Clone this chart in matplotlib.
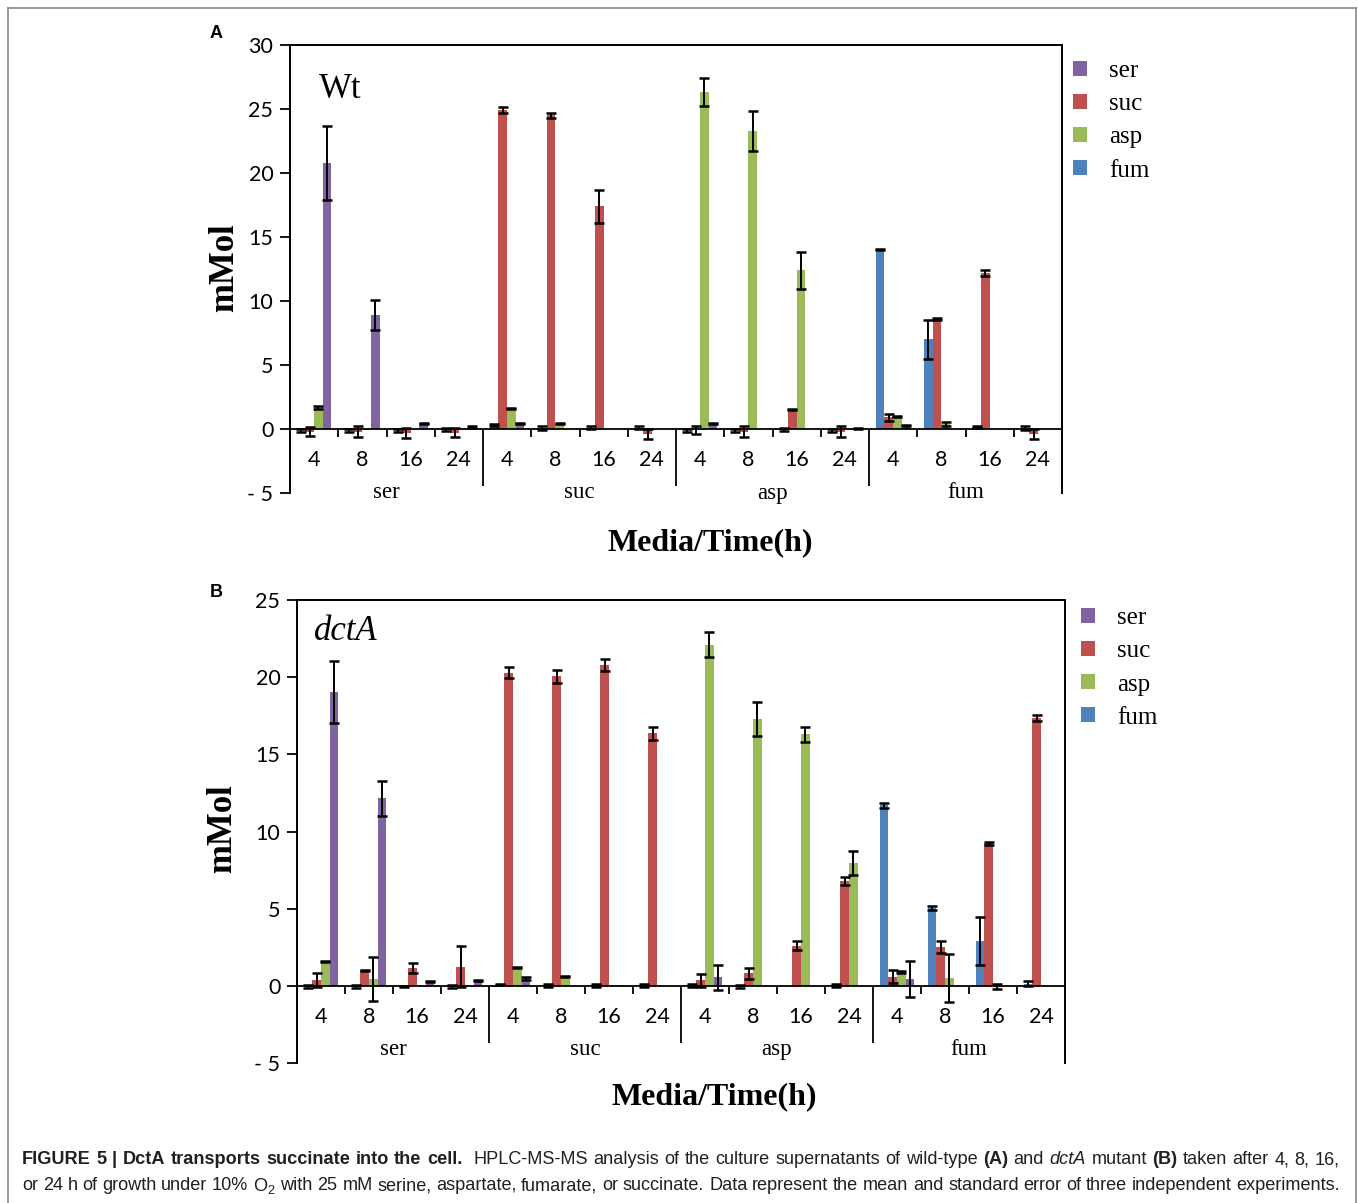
import numpy as np
import matplotlib
matplotlib.use('Agg')
import matplotlib.pyplot as plt
from matplotlib.lines import Line2D

# categories
times = ['4', '8', '16', '24']
media = ['ser', 'suc', 'asp', 'fum']
order = ['fum', 'suc', 'asp', 'ser']      # bar order inside each group
legend_order = ['ser', 'suc', 'asp', 'fum']
colors = {'ser': '#8064A2', 'suc': '#C0504D', 'asp': '#9BBB59', 'fum': '#4F81BD'}

# panel A (Wt), 16 groups: ser 4,8,16,24 | suc ... | asp ... | fum ...
fum_A = [-0.1, -0.1, -0.1, -0.05, 0.3, 0.1, 0.1, 0.1, -0.1, -0.1, -0.05, -0.1, 14.05, 7.0, 0.15, 0.1]
fum_A_err = [0.1, 0.1, 0.1, 0.1, 0.1, 0.15, 0.1, 0.1, 0.1, 0.1, 0.1, 0.1, 0.05, 1.55, 0.1, 0.15]
suc_A = [-0.2, -0.2, -0.3, -0.3, 24.9, 24.5, 17.4, -0.4, -0.1, -0.2, 1.5, -0.2, 0.9, 8.6, 12.2, -0.4]
suc_A_err = [0.35, 0.4, 0.4, 0.35, 0.25, 0.2, 1.3, 0.4, 0.3, 0.4, 0.04, 0.4, 0.3, 0.08, 0.25, 0.4]
asp_A = [1.7, 0.05, 0, 0, 1.6, 0.4, 0, 0, 26.3, 23.3, 12.4, 0.05, 1.0, 0.4, 0, 0]
asp_A_err = [0.12, 0, 0, 0, 0.04, 0.04, 0, 0, 1.1, 1.55, 1.45, 0, 0.05, 0.15, 0, 0]
ser_A = [20.8, 8.9, 0.45, 0.15, 0.4, 0, 0, 0, 0.45, 0, 0, 0.05, 0.25, 0, 0, 0]
ser_A_err = [2.9, 1.2, 0.04, 0.1, 0.04, 0, 0, 0, 0.04, 0, 0, 0.05, 0.04, 0, 0, 0]

# panel B (dctA)
fum_B = [-0.05, -0.05, -0.05, -0.05, 0.1, 0.05, 0.05, 0.05, 0, -0.05, 0, 0.05, 11.7, 5.05, 2.9, 0.15]
fum_B_err = [0.1, 0.1, 0.05, 0.1, 0.05, 0.1, 0.1, 0.1, 0.1, 0.1, 0, 0.1, 0.15, 0.15, 1.55, 0.15]
suc_B = [0.35, 1.0, 1.15, 1.25, 20.3, 20.05, 20.8, 16.35, 0.35, 0.8, 2.6, 6.8, 0.6, 2.5, 9.25, 17.35]
suc_B_err = [0.45, 0.04, 0.3, 1.3, 0.35, 0.4, 0.4, 0.4, 0.4, 0.37, 0.3, 0.25, 0.4, 0.4, 0.1, 0.2]
asp_B = [1.6, 0.45, 0, 0, 1.2, 0.6, 0.05, 0, 22.1, 17.3, 16.3, 7.95, 0.9, 0.5, -0.05, 0]
asp_B_err = [0.03, 1.45, 0, 0, 0.04, 0.04, 0, 0, 0.8, 1.1, 0.5, 0.8, 0.04, 1.55, 0.15, 0]
ser_B = [19.05, 12.15, 0.28, 0.35, 0.5, 0, 0.05, 0, 0.55, 0, 0, 0, 0.45, 0, 0, 0]
ser_B_err = [2.0, 1.15, 0.03, 0.03, 0.1, 0, 0, 0, 0.8, 0, 0, 0, 1.15, 0, 0, 0]

SERIF = 'Liberation Serif'
TICKF = 'Lato'

W, H = 1358, 1203
fig = plt.figure(figsize=(W / 100, H / 100), dpi=100)
plt.rcParams['mathtext.fontset'] = 'custom'
plt.rcParams['mathtext.rm'] = 'Liberation Sans'


def add_axes_px(l, t, r, b):
    return fig.add_axes([l / W, 1 - b / H, (r - l) / W, (b - t) / H])


def panel(ax, vals, errs, ymax, hpx):
    ymin = -5
    upp = (ymax - ymin) / hpx   # data units per pixel
    x = np.arange(16) + 0.5
    w = 0.18
    bars = {}
    for i, s in enumerate(order):
        xs = x + (i - 1.5) * w
        v = np.array(vals[s], dtype=float)
        e = np.array(errs[s], dtype=float)
        bars[s] = ax.bar(xs, v, w, color=colors[s], label=s, zorder=2)
        m = e > 0
        ax.errorbar(xs[m], v[m], yerr=e[m], fmt='none', ecolor='black',
                    elinewidth=1.4, capsize=3.6, capthick=1.8, zorder=3)
    ax.set_xlim(0, 16)
    ax.set_ylim(ymin, ymax)
    ax.axhline(0, color='black', lw=1.3, zorder=4)
    for k in range(1, 16):
        ln = 57 if k % 4 == 0 else 8
        ax.vlines(k, -ln * upp, 0, color='black', lw=1.3, clip_on=False, zorder=4)
    for k in range(16):
        ax.annotate(times[k % 4], xy=(k + 0.5, 0), xytext=(0, -31 * 0.72),
                    textcoords='offset points', ha='center', va='center',
                    fontsize=15.5, family=TICKF)
    for j, m_ in enumerate(media):
        ax.annotate(m_, xy=(4 * j + 2, 0), xytext=(0, -64 * 0.72),
                    textcoords='offset points', ha='center', va='center',
                    fontsize=16.5, family=SERIF)
    yt = list(range(ymin, ymax + 1, 5))
    ax.set_yticks(yt)
    ax.set_yticklabels(['- 5' if t < 0 else str(t) for t in yt], family=TICKF, fontsize=15.5)
    ax.set_xticks([])
    ax.tick_params(axis='y', direction='out', length=7, width=1.3, pad=5)
    ax.spines['bottom'].set_visible(False)
    for sp in ['left', 'top', 'right']:
        ax.spines[sp].set_linewidth(1.4)
    return bars


valsA = {'fum': fum_A, 'suc': suc_A, 'asp': asp_A, 'ser': ser_A}
errsA = {'fum': fum_A_err, 'suc': suc_A_err, 'asp': asp_A_err, 'ser': ser_A_err}
valsB = {'fum': fum_B, 'suc': suc_B, 'asp': asp_B, 'ser': ser_B}
errsB = {'fum': fum_B_err, 'suc': suc_B_err, 'asp': asp_B_err, 'ser': ser_B_err}

axA = add_axes_px(290, 45, 1062, 493)
barsA = panel(axA, valsA, errsA, 30, 448)
axB = add_axes_px(297, 600, 1065, 1063)
barsB = panel(axB, valsB, errsB, 25, 463)

for bars, lx, ty in [(barsA, 1073, 60), (barsB, 1081, 607)]:
    fig.legend([bars[s] for s in legend_order], legend_order, loc='upper left',
               bbox_to_anchor=(lx / W, 1 - ty / H), frameon=False, borderpad=0,
               borderaxespad=0, handlelength=0.55, handleheight=0.55,
               handletextpad=0.9, labelspacing=0.45,
               prop={'family': SERIF, 'size': 18})

# panel texts
fig.text(216 / W, 1 - 33 / H, 'A', fontsize=13, weight='bold', family='Liberation Sans', ha='center', va='center')
fig.text(216 / W, 1 - 592 / H, 'B', fontsize=13, weight='bold', family='Liberation Sans', ha='center', va='center')
fig.text(319 / W, 1 - 90 / H, 'Wt', fontsize=25, family=SERIF, ha='left', va='center')
fig.text(314 / W, 1 - 632 / H, 'dctA', fontsize=25, family=SERIF, style='italic', ha='left', va='center')
fig.text(225 / W, 1 - 268 / H, 'mMol', fontsize=25, family=SERIF, weight='bold', rotation=90, ha='center', va='center')
fig.text(223 / W, 1 - 829 / H, 'mMol', fontsize=25, family=SERIF, weight='bold', rotation=90, ha='center', va='center')
fig.text(710 / W, 1 - 543 / H, 'Media/Time(h)', fontsize=23, family=SERIF, weight='bold', ha='center', va='center')
fig.text(714 / W, 1 - 1097 / H, 'Media/Time(h)', fontsize=23, family=SERIF, weight='bold', ha='center', va='center')

# outer frame
for xs_, ys_ in [([8, 8], [8, H]), ([8, 1356], [8, 8]), ([1356, 1356], [8, H])]:
    fig.add_artist(Line2D([v / W for v in xs_], [1 - v / H for v in ys_], color='#8a8a8a', lw=1.2))

# caption, justified word by word between x=22 and x=1340
cap_color = '#231f20'
line1 = [('FIGURE 5 | DctA transports succinate into the cell.', 'bold', 'normal'),
         ('HPLC-MS-MS analysis of the culture supernatants of wild-type', 'normal', 'normal'),
         ('(A)', 'bold', 'normal'), ('and', 'normal', 'normal'), ('dctA', 'normal', 'italic'),
         ('mutant', 'normal', 'normal'), ('(B)', 'bold', 'normal'),
         ('taken after 4, 8, 16,', 'normal', 'normal')]
line2 = [('or 24 h of growth under 10% O$_2$ with 25 mM serine, aspartate, fumarate, or succinate. '
          'Data represent the mean and standard error of three independent experiments.', 'normal', 'normal')]
renderer = fig.canvas.get_renderer()
x0, x1 = 22, 1340
for pieces, yc in [(line1, 1160), (line2, 1186)]:
    words = []
    for txt, wgt, sty in pieces:
        for wd in txt.split(' '):
            t = fig.text(0, 1 - yc / H, wd, fontsize=13.1, family='Liberation Sans', weight=wgt,
                         style=sty, color=cap_color, ha='left', va='center')
            words.append((t, t.get_window_extent(renderer).width))
    # extra gap after the bold title
    total = sum(wd for _, wd in words)
    gaps = [1.0] * (len(words) - 1)
    if pieces is line1:
        gaps[8] = 2.0
    unit = (x1 - x0 - total) / sum(gaps)
    x = x0
    for i, (t, wd) in enumerate(words):
        t.set_x(x / W)
        x += wd + (unit * gaps[i] if i < len(gaps) else 0)

fig.savefig('out.png', dpi=100)
